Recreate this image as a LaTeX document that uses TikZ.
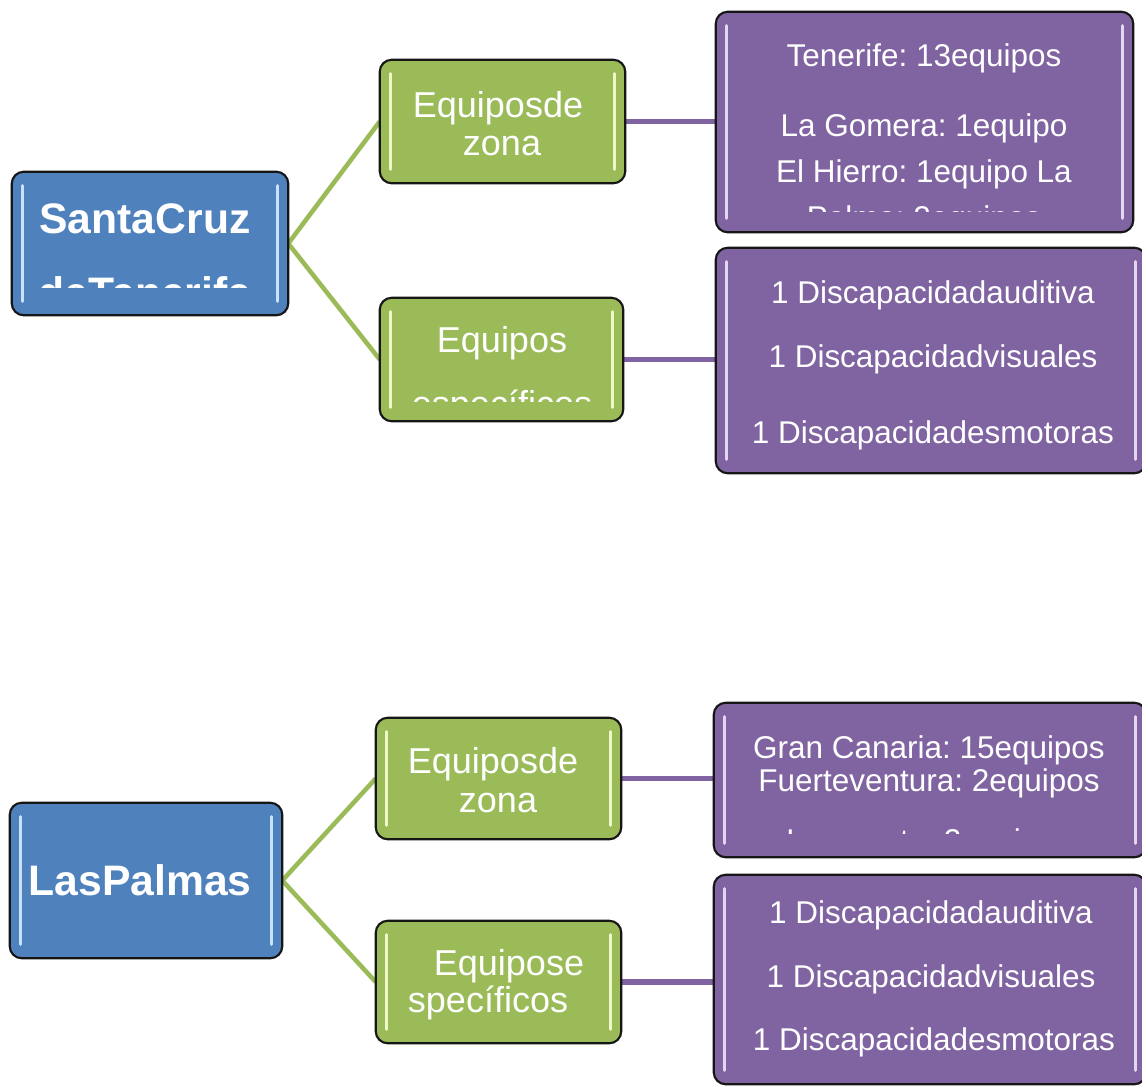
\documentclass[tikz,border=0pt]{standalone}
\usepackage{fontspec}
\setmainfont{Liberation Sans}
\usetikzlibrary{fit}
\frenchspacing
\definecolor{blueF}{HTML}{4F81BD}
\definecolor{blueH}{HTML}{C8E2FB}
\definecolor{greenF}{HTML}{9BBB59}
\definecolor{greenH}{HTML}{EEF8C8}
\definecolor{purpleF}{HTML}{8064A2}
\definecolor{purpleH}{HTML}{E2D6F2}
\definecolor{outlineC}{HTML}{161616}
\tikzset{
  boxbase/.style={draw=outlineC, line width=1.6pt, rounded corners=9pt, inner sep=0pt},
  bluebox/.style={boxbase, fill=blueF},
  greenbox/.style={boxbase, fill=greenF},
  purplebox/.style={boxbase, fill=purpleF},
  hiline/.style={line width=2.6pt, line cap=round, draw=#1},
  greenlink/.style={draw=greenF, line width=3.4pt},
  purplelink/.style={draw=purpleF, line width=3.9pt},
  bluetext/.style={text=white, font=\fontsize{32}{36}\selectfont\bfseries, inner sep=0pt, anchor=base},
  greentext/.style={text=white, font=\fontsize{27}{30}\selectfont, inner sep=0pt, anchor=base},
  purpletext/.style={text=white, font=\fontsize{23.6}{27}\selectfont, inner sep=0pt, anchor=base},
}
\newcommand{\hilite}[2]{%
  \draw[hiline=#2] ([xshift=8.25pt,yshift=-10.5pt]#1.north west) -- ([xshift=8.25pt,yshift=10.5pt]#1.south west);
  \draw[hiline=#2] ([xshift=-8.25pt,yshift=-10.5pt]#1.north east) -- ([xshift=-8.25pt,yshift=10.5pt]#1.south east);
}
\begin{document}
\begin{tikzpicture}[x=0.75pt,y=-0.75pt]
\clip (0,0) rectangle (1142,1086);
\fill[white] (0,0) rectangle (1142,1086);
% box geometry
\path node[fit={(12,172) (288,315)}, inner sep=0pt] (b1) {};
\path node[fit={(380,60) (625,183)}, inner sep=0pt] (g1) {};
\path node[fit={(380,298) (623,421)}, inner sep=0pt] (g2) {};
\path node[fit={(716,12) (1133,232)}, inner sep=0pt] (p1) {};
\path node[fit={(716,248) (1146,473)}, inner sep=0pt] (p2) {};
\path node[fit={(10,803) (282,958)}, inner sep=0pt] (b2) {};
\path node[fit={(376,718) (621,839)}, inner sep=0pt] (g3) {};
\path node[fit={(376,921) (621,1043)}, inner sep=0pt] (g4) {};
\path node[fit={(714,703) (1146,857)}, inner sep=0pt] (p3) {};
\path node[fit={(714,875) (1146,1084)}, inner sep=0pt] (p4) {};
% connectors
\draw[greenlink] (b1.east) -- (g1.west);
\draw[greenlink] (b1.east) -- (g2.west);
\draw[greenlink] (b2.east) -- (g3.west);
\draw[greenlink] (b2.east) -- (g4.west);
\draw[purplelink] (g1.east) -- (g1.east -| p1.west);
\draw[purplelink] (g2.east) -- (g2.east -| p2.west);
\draw[purplelink] (g3.east) -- (g3.east -| p3.west);
\draw[purplelink] (g4.east) -- (g4.east -| p4.west);
% filled boxes
\draw[bluebox] (b1.north west) rectangle (b1.south east);
\draw[greenbox] (g1.north west) rectangle (g1.south east);
\draw[greenbox] (g2.north west) rectangle (g2.south east);
\draw[purplebox] (p1.north west) rectangle (p1.south east);
\draw[purplebox] (p2.north west) rectangle (p2.south east);
\draw[bluebox] (b2.north west) rectangle (b2.south east);
\draw[greenbox] (g3.north west) rectangle (g3.south east);
\draw[greenbox] (g4.north west) rectangle (g4.south east);
\draw[purplebox] (p3.north west) rectangle (p3.south east);
\draw[purplebox] (p4.north west) rectangle (p4.south east);
\hilite{b1}{blueH}\hilite{b2}{blueH}
\hilite{g1}{greenH}\hilite{g2}{greenH}\hilite{g3}{greenH}\hilite{g4}{greenH}
\hilite{p1}{purpleH}\hilite{p2}{purpleH}\hilite{p3}{purpleH}\hilite{p4}{purpleH}
% texts
\begin{scope}
  \clip (12,172) rectangle (288,287);
  \node[bluetext] (b1a) at (145,233) {SantaCruz};
  \node[bluetext] (b1b) at (145,307) {deTenerife};
\end{scope}
\node[bluetext] (b2a) at (140,895) {LasPalmas};
\node[greentext] (g1a) at (498,117) {Equiposde};
\node[greentext] (g1b) at (502,155) {zona};
\begin{scope}
  \clip (380,298) rectangle (623,401);
  \node[greentext] (g2a) at (502,352) {Equipos};
  \node[greentext] (g2b) at (502,416) {específicos};
\end{scope}
\node[greentext] (g3a) at (493,773) {Equiposde};
\node[greentext] (g3b) at (498,812) {zona};
\node[greentext] (g4a) at (509,975) {Equipose};
\node[greentext] (g4b) at (488,1012) {specíficos};
\begin{scope}
  \clip (716,12) rectangle (1133,211);
  \node[purpletext] (p1a) at (924,66) {Tenerife: 13equipos};
  \node[purpletext] (p1b) at (924,136) {La Gomera: 1equipo};
  \node[purpletext] (p1c) at (924,182) {El Hierro: 1equipo La};
  \node[purpletext] (p1d) at (924,228) {Palma: 2equipos};
\end{scope}
\node[purpletext] (p2a) at (933,303) {1 Discapacidadauditiva};
\node[purpletext] (p2b) at (933,367) {1 Discapacidadvisuales};
\node[purpletext] (p2c) at (933,443) {1 Discapacidadesmotoras};
\begin{scope}
  \clip (714,703) rectangle (1146,833);
  \node[purpletext] (p3a) at (929,758) {Gran Canaria: 15equipos};
  \node[purpletext] (p3b) at (929,791) {Fuerteventura: 2equipos};
  \node[purpletext] (p3c) at (929,851) {Lanzarote: 2equipos};
\end{scope}
\node[purpletext] (p4a) at (931,923) {1 Discapacidadauditiva};
\node[purpletext] (p4b) at (931,987) {1 Discapacidadvisuales};
\node[purpletext] (p4c) at (934,1050) {1 Discapacidadesmotoras};
\end{tikzpicture}
\end{document}
